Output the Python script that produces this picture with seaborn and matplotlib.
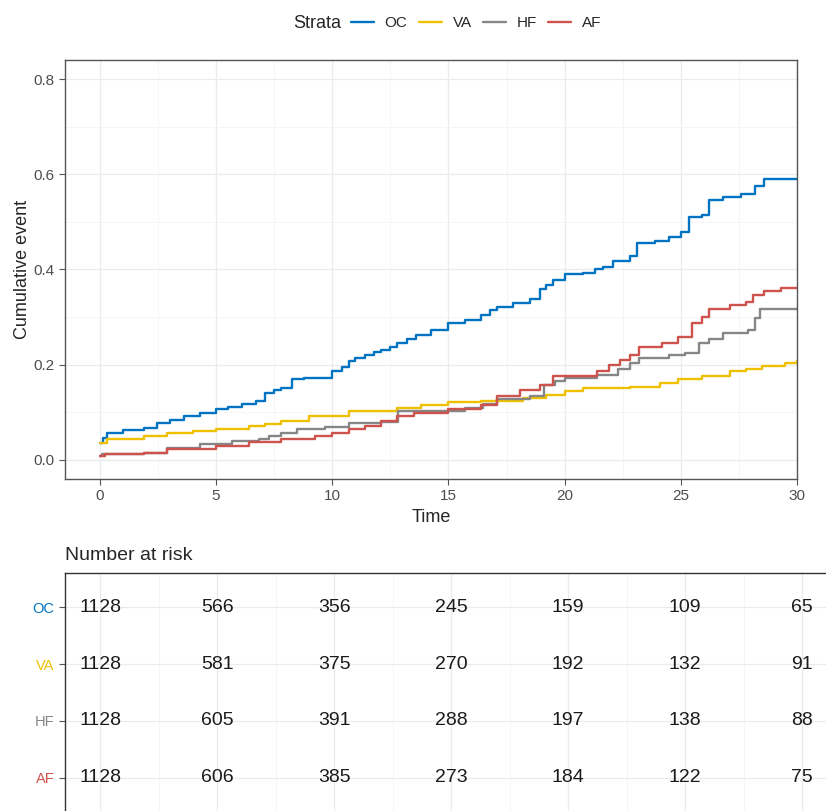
import pandas as pd
import numpy as np
import matplotlib
matplotlib.use("Agg")
import matplotlib.pyplot as plt
import seaborn as sns
from matplotlib.ticker import MultipleLocator

# curves (time, cumulative event)
oc_time = [0, 0.15, 0.3, 1.0, 1.9, 2.45, 3.0, 3.6, 4.3, 5.0, 5.5, 6.1, 6.7, 7.1, 7.5, 7.8, 8.26, 8.8, 9.5, 10.0, 10.4, 10.7,
           11.0, 11.4, 11.8, 12.1, 12.5, 12.8, 13.2, 13.6, 14.25, 15.0, 15.7, 16.4, 16.8, 17.1, 17.8, 18.5, 18.95, 19.2,
           19.5, 20.0, 20.8, 21.3, 21.65, 22.1, 22.8, 23.1, 23.9, 24.5, 25.0, 25.35, 25.9, 26.2, 26.8, 27.6, 28.2, 28.6, 30.0]
oc_cum = [0.036, 0.047, 0.057, 0.062, 0.068, 0.078, 0.084, 0.092, 0.099, 0.106, 0.111, 0.118, 0.123, 0.141, 0.146, 0.151,
          0.169, 0.172, 0.172, 0.186, 0.196, 0.207, 0.214, 0.221, 0.226, 0.231, 0.238, 0.245, 0.254, 0.263, 0.273, 0.287,
          0.294, 0.305, 0.314, 0.322, 0.329, 0.339, 0.360, 0.368, 0.378, 0.390, 0.393, 0.400, 0.406, 0.418, 0.428, 0.456,
          0.460, 0.468, 0.479, 0.510, 0.514, 0.545, 0.552, 0.559, 0.576, 0.590, 0.590]

va_time = [0, 0.3, 1.9, 2.9, 4.0, 5.0, 6.4, 7.1, 7.8, 9.0, 10.4, 10.7, 11.4, 12.8, 13.8, 15.0, 16.4, 18.2, 19.2, 20.0, 20.8,
           22.8, 24.1, 24.9, 25.9, 27.1, 27.8, 28.5, 29.5, 30.0]
va_cum = [0.035, 0.043, 0.050, 0.057, 0.060, 0.064, 0.071, 0.076, 0.082, 0.092, 0.092, 0.102, 0.102, 0.109, 0.115, 0.121,
          0.123, 0.130, 0.137, 0.144, 0.151, 0.153, 0.162, 0.169, 0.176, 0.186, 0.190, 0.197, 0.203, 0.207]

hf_time = [0, 0.1, 1.9, 2.9, 4.3, 5.7, 6.85, 7.3, 7.8, 8.5, 9.7, 10.7, 12.1, 12.85, 14.25, 15.7, 16.5, 17.1, 18.5, 19.1,
           19.6, 20.0, 21.4, 22.3, 22.8, 23.2, 24.5, 25.2, 25.8, 26.2, 26.8, 27.9, 28.2, 28.4, 30.0]
hf_cum = [0.008, 0.012, 0.015, 0.026, 0.033, 0.040, 0.045, 0.050, 0.057, 0.066, 0.070, 0.078, 0.079, 0.102, 0.102, 0.109,
          0.118, 0.128, 0.134, 0.158, 0.165, 0.172, 0.179, 0.190, 0.203, 0.214, 0.221, 0.224, 0.245, 0.254, 0.266, 0.273,
          0.298, 0.318, 0.318]

af_time = [0, 0.2, 1.9, 2.9, 5.0, 6.4, 7.8, 9.25, 10.0, 10.7, 11.4, 12.1, 12.8, 13.5, 15.0, 16.4, 17.1, 18.1, 18.95, 19.5,
           21.4, 21.9, 22.4, 22.8, 23.2, 24.2, 24.9, 25.5, 25.9, 26.2, 27.1, 27.8, 28.1, 28.6, 29.3, 30.0]
af_cum = [0.008, 0.012, 0.015, 0.022, 0.029, 0.038, 0.043, 0.050, 0.057, 0.064, 0.071, 0.082, 0.092, 0.099, 0.106, 0.116,
          0.134, 0.146, 0.158, 0.176, 0.186, 0.200, 0.210, 0.221, 0.238, 0.245, 0.259, 0.287, 0.301, 0.318, 0.325, 0.332,
          0.346, 0.355, 0.362, 0.362]

strata = ["OC", "VA", "HF", "AF"]
colors = ["#0073C2", "#EFC000", "#868686", "#CD534C"]

# number at risk table
risk_times = [0, 5, 10, 15, 20, 25, 30]
risk_oc = [1128, 566, 356, 245, 159, 109, 65]
risk_va = [1128, 581, 375, 270, 192, 132, 91]
risk_hf = [1128, 605, 391, 288, 197, 138, 88]
risk_af = [1128, 606, 385, 273, 184, 122, 75]

curves = {"OC": (oc_time, oc_cum), "VA": (va_time, va_cum), "HF": (hf_time, hf_cum), "AF": (af_time, af_cum)}
df = pd.concat([pd.DataFrame({"Time": t, "cum": c, "Strata": k}) for k, (t, c) in curves.items()], ignore_index=True)
risk = {"OC": risk_oc, "VA": risk_va, "HF": risk_hf, "AF": risk_af}

sns.set_style("white")
plt.rcParams["font.family"] = ["Liberation Sans", "DejaVu Sans"]

W, H = 826, 811
fig = plt.figure(figsize=(W / 100, H / 100), dpi=100)

# main plot
ax = fig.add_axes([65 / W, 1 - 479 / H, 732 / W, 419 / H])
sns.lineplot(data=df, x="Time", y="cum", hue="Strata", hue_order=strata, palette=colors,
             drawstyle="steps-post", estimator=None, linewidth=1.7, ax=ax)
ax.set_xlim(-1.5, 30)
ax.set_ylim(-0.04, 0.84)
ax.xaxis.set_major_locator(MultipleLocator(5))
ax.xaxis.set_minor_locator(MultipleLocator(2.5))
ax.yaxis.set_major_locator(MultipleLocator(0.2))
ax.yaxis.set_minor_locator(MultipleLocator(0.1))
ax.set_yticks([0, 0.2, 0.4, 0.6, 0.8])
ax.set_yticklabels(["0.0", "0.2", "0.4", "0.6", "0.8"])
ax.grid(which="major", color="#EBEBEB", linewidth=0.9)
ax.grid(which="minor", color="#F4F4F4", linewidth=0.6)
ax.set_axisbelow(True)
for s in ax.spines.values():
    s.set_color("#555555")
    s.set_linewidth(1.0)
ax.tick_params(which="major", length=4, color="#555555", labelcolor="#4D4D4D", labelsize=11, left=True, bottom=True)
ax.tick_params(which="minor", length=0)
ax.set_xlabel("Time", fontsize=13, labelpad=4)
ax.set_ylabel("Cumulative event", fontsize=13, labelpad=2)

handles, labels = ax.get_legend_handles_labels()
ax.get_legend().remove()
fig.text(293 / W, 1 - 23 / H, "Strata", fontsize=13, va="center", ha="left")
fig.legend(handles, labels, loc="center left", bbox_to_anchor=(351 / W, 1 - 23 / H), ncol=4, frameon=False,
           fontsize=11, handlelength=1.5, handletextpad=0.7, columnspacing=0.75, borderpad=0, borderaxespad=0)

# risk table
tax = fig.add_axes([65 / W, 1 - 812 / H, 784 / W, 239 / H])
tax.set_xlim(-1.5, 32)
tax.set_ylim(0.4, 4.6)
tax.xaxis.set_major_locator(MultipleLocator(5))
tax.xaxis.set_minor_locator(MultipleLocator(2.5))
row_y = [4, 3, 2, 1]
for k, y in zip(strata, row_y):
    for t, n in zip(risk_times, risk[k]):
        tax.text(t, y, str(n), ha="center", va="center", fontsize=14, color="#1A1A1A")
tax.set_yticks(row_y)
tax.set_yticklabels(strata)
for lab, c in zip(tax.get_yticklabels(), colors):
    lab.set_color(c)
tax.grid(which="major", color="#EBEBEB", linewidth=0.9)
tax.grid(which="minor", axis="x", color="#F4F4F4", linewidth=0.6)
tax.set_axisbelow(True)
for s in tax.spines.values():
    s.set_color("#333333")
    s.set_linewidth(1.0)
tax.tick_params(axis="y", length=4, color="#555555", labelsize=10.5, left=True)
tax.tick_params(axis="x", which="both", bottom=False, labelbottom=False)
tax.set_xlabel("")
tax.set_ylabel("")
fig.text(65 / W, 1 - 556 / H, "Number at risk", fontsize=14, va="center", ha="left")

fig.savefig("out.png", dpi=100)
